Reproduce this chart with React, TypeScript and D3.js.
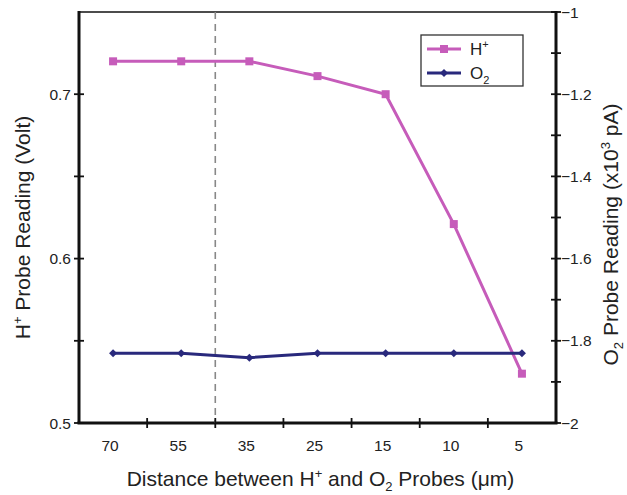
import React from 'react';
import * as d3 from 'd3';

// chart data
const distances = ['70', '55', '35', '25', '15', '10', '5'];
const hValues = [0.72, 0.72, 0.72, 0.711, 0.7, 0.621, 0.53];
const o2Values = [-1.83, -1.83, -1.841, -1.83, -1.83, -1.83, -1.83];
const leftTicks = [0.5, 0.55, 0.6, 0.65, 0.7];
const leftLabels = [0.5, 0.6, 0.7];
const rightTicks = d3.range(0, 11).map((i) => -1 - i * 0.1);
const rightLabels = [-1, -1.2, -1.4, -1.6, -1.8, -2];
const dashedAfter = '55';

const W = 627;
const H = 495;
const margin = { left: 79, right: 71, top: 12, bottom: 72 };

const hColor = '#c65cba';
const oColor = '#29297c';
const font = 'Liberation Sans, Arial, Helvetica, sans-serif';

const fmtMinus = (v: number) => {
  const s = d3.format('.1~f')(Math.abs(v));
  return v < 0 ? '\u2212' + s : s;
};

export default function App() {
  const x0 = margin.left;
  const x1 = W - margin.right;
  const y0 = H - margin.bottom;
  const y1 = margin.top;

  const x = d3.scaleBand<string>().domain(distances).range([x0, x1]);
  const yL = d3.scaleLinear().domain([0.5, 0.75]).range([y0, y1]);
  const yR = d3.scaleLinear().domain([-2, -1]).range([y0, y1]);
  const cx = (d: string) => (x(d) as number) + x.bandwidth() / 2;

  const hLine = d3.line<number>()
    .x((_, i) => cx(distances[i]))
    .y((d) => yL(d));
  const oLine = d3.line<number>()
    .x((_, i) => cx(distances[i]))
    .y((d) => yR(d));

  const boundaries = distances.slice(1).map((d) => x(d) as number);
  const dashX = (x(dashedAfter) as number) + x.bandwidth();

  const diamond = (px: number, py: number, w = 4, h = 4) =>
    `M${px - w},${py}L${px},${py - h}L${px + w},${py}L${px},${py + h}Z`;

  return (
    <svg width={W} height={H} style={{ position: 'absolute', left: 0, top: 0, background: '#fff' }}
      fontFamily={font}>
      {/* frame */}
      <line x1={x0} x2={x1} y1={y1} y2={y1} stroke="#111" strokeWidth={1.3} />
      <line x1={x0} x2={x0} y1={y1 - 1} y2={y0} stroke="#111" strokeWidth={3} />
      <line x1={x1} x2={x1} y1={y1 - 1} y2={y0} stroke="#111" strokeWidth={3} />
      <line x1={x0 - 1.5} x2={x1 + 1.5} y1={y0} y2={y0} stroke="#111" strokeWidth={3} />

      {/* dashed separator */}
      <line x1={dashX} x2={dashX} y1={y1} y2={y0} stroke="#888" strokeWidth={1.6} strokeDasharray="7,5" />

      {/* left axis */}
      {leftTicks.map((t) => (
        <line key={'lt' + t} x1={x0 - 5} x2={x0 + 5} y1={yL(t)} y2={yL(t)} stroke="#111" strokeWidth={1.8} />
      ))}
      {leftLabels.map((t) => (
        <text key={'ll' + t} x={x0 - 8} y={yL(t)} dy="0.36em" textAnchor="end" fontSize={15.5} fill="#222">
          {t.toFixed(1)}
        </text>
      ))}

      {/* right axis */}
      {rightTicks.map((t, i) => (
        <line key={'rt' + i} x1={x1 - 5} x2={x1 + 5} y1={yR(t)} y2={yR(t)} stroke="#111" strokeWidth={1.8} />
      ))}
      {rightLabels.map((t) => (
        <text key={'rl' + t} x={x1 + 5} y={yR(t)} dy="0.36em" textAnchor="start" fontSize={15.5} fill="#222">
          {fmtMinus(t)}
        </text>
      ))}

      {/* bottom axis */}
      {boundaries.map((b, i) => (
        <line key={'bt' + i} x1={b} x2={b} y1={y0 - 5} y2={y0 + 5} stroke="#111" strokeWidth={1.8} />
      ))}
      {distances.map((d) => (
        <text key={'bl' + d} x={cx(d) - 3} y={y0 + 28} textAnchor="middle" fontSize={15.5} fill="#222">
          {d}
        </text>
      ))}

      {/* series */}
      <path d={hLine(hValues) as string} fill="none" stroke={hColor} strokeWidth={3} />
      {hValues.map((v, i) => (
        <rect key={'hm' + i} x={cx(distances[i]) - 4} y={yL(v) - 4} width={8} height={8} fill={hColor} />
      ))}
      <path d={oLine(o2Values) as string} fill="none" stroke={oColor} strokeWidth={3} />
      {o2Values.map((v, i) => (
        <path key={'om' + i} d={diamond(cx(distances[i]), yR(v))} fill={oColor} />
      ))}

      {/* legend */}
      <g transform="translate(421,35)">
        <rect x={0} y={0} width={102} height={51} fill="#fff" stroke="#333" strokeWidth={1.3} />
        <line x1={6} x2={40} y1={14} y2={14} stroke={hColor} strokeWidth={3} />
        <rect x={19} y={10} width={8} height={8} fill={hColor} />
        <text x={49} y={20} fontSize={17} fill="#222">
          H<tspan dy={-7} fontSize={11}>+</tspan>
        </text>
        <line x1={6} x2={40} y1={38} y2={38} stroke={oColor} strokeWidth={3} />
        <path d={diamond(23, 38)} fill={oColor} />
        <text x={49} y={44} fontSize={17} fill="#222">
          O<tspan dy={5} fontSize={11}>2</tspan>
        </text>
      </g>

      {/* axis titles */}
      <text transform={`translate(30,${(y0 + y1) / 2 + 10}) rotate(-90)`} textAnchor="middle" fontSize={21} fill="#222">
        H<tspan dy={-8} fontSize={13}>+</tspan><tspan dy={8}> Probe Reading (Volt)</tspan>
      </text>
      <text transform={`translate(618,${(y0 + y1) / 2 + 17}) rotate(-90)`} textAnchor="middle" fontSize={21} fill="#222">
        O<tspan dy={5} fontSize={13}>2</tspan><tspan dy={-5}> Probe Reading (x10</tspan><tspan dy={-8} fontSize={13}>3</tspan><tspan dy={8}> pA)</tspan>
      </text>
      <text x={(x0 + x1) / 2 + 3} y={486} textAnchor="middle" fontSize={21} fill="#222">
        Distance between H<tspan dy={-8} fontSize={13}>+</tspan><tspan dy={8}> and O</tspan><tspan dy={5} fontSize={13}>2</tspan><tspan dy={-5}> Probes (μm)</tspan>
      </text>
    </svg>
  );
}
